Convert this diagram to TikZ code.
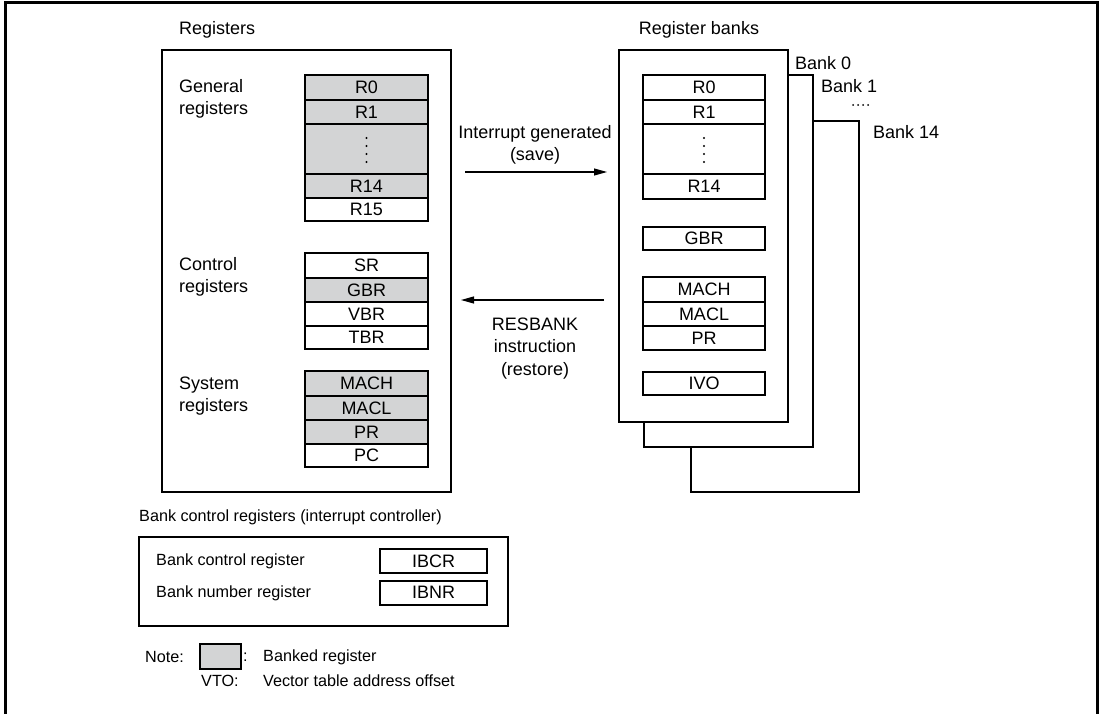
\documentclass[tikz,border=0pt]{standalone}
\usepackage{fontspec}
\setmainfont{Liberation Sans}
\usetikzlibrary{arrows.meta}
\definecolor{bankgray}{RGB}{211,212,213}
\newcommand{\regfont}{\fontsize{18}{22.5}\selectfont}
\newcommand{\ctlfont}{\fontsize{16.2}{20}\selectfont}
\begin{document}
\begin{tikzpicture}[x=1pt, y=-1pt,
    box/.style={draw, line width=2pt},
    reg/.style={draw, line width=2pt, minimum width=123pt, minimum height=24pt,
      inner sep=0pt, outer sep=0pt, font=\regfont},
    banked/.style={reg, fill=bankgray},
    bankreg/.style={reg, fill=white, minimum width=122pt},
    lbl/.style={font=\regfont, align=left, anchor=west, inner sep=0pt},
    ctllbl/.style={lbl, font=\ctlfont},
    mid/.style={font=\regfont, align=center, inner sep=0pt},
    vdot/.style={fill, circle, inner sep=0pt, minimum size=2.4pt},
    flow/.style={line width=1.1pt, -{Triangle[length=13pt, width=7pt]}}]
  \useasboundingbox (0,0) rectangle (1102,714);
  % outer frame (open at the bottom)
  \draw[line width=3pt] (5,714) -- (5,3) -- (1097,3) -- (1097,714);
  % CPU registers
  \node[lbl] (regtitle) at (179,30) {Registers};
  \draw[box] (162,50) rectangle (451,492);
  \node[lbl] (genlbl) at (179,99) {General\\registers};
  \node[banked, minimum height=25pt] (gR0) at (366.5,87.5) {R0};
  \node[banked] (gR1) at (366.5,112) {R1};
  \node[banked, minimum height=50pt] (gdots) at (366.5,149) {};
  \foreach \y in {138,146,154,162} \node[vdot] at (366.5,\y) {};
  \node[banked] (gR14) at (366.5,186) {R14};
  \node[reg, minimum height=23pt] (gR15) at (366.5,209.5) {R15};
  \node[lbl] (ctrlgrp) at (179,277) {Control\\registers};
  \node[reg, minimum height=25pt] (cSR) at (366.5,265.5) {SR};
  \node[banked] (cGBR) at (366.5,290) {GBR};
  \node[reg] (cVBR) at (366.5,314) {VBR};
  \node[reg, minimum height=23pt] (cTBR) at (366.5,337.5) {TBR};
  \node[lbl] (sysgrp) at (179,396) {System\\registers};
  \node[banked, minimum height=25pt] (sMACH) at (366.5,383.5) {MACH};
  \node[banked] (sMACL) at (366.5,408) {MACL};
  \node[banked] (sPR) at (366.5,432) {PR};
  \node[reg, minimum height=23pt] (sPC) at (366.5,455.5) {PC};
  % register banks, back to front
  \node[mid] (banktitle) at (699,30) {Register banks};
  \draw[box, fill=white] (691,121) rectangle (859,492);
  \draw[box, fill=white] (644,75) rectangle (813,447);
  \draw[box, fill=white] (619,50) rectangle (788,422);
  \node[lbl] (bank0) at (795,63) {Bank 0};
  \node[lbl] (bank1) at (821,86) {Bank 1};
  \foreach \x in {853,858,863,868} \node[vdot, minimum size=2pt] at (\x,105) {};
  \node[lbl] (bank14) at (873,132) {Bank 14};
  \node[bankreg, minimum height=25pt] (bR0) at (704,87.5) {R0};
  \node[bankreg] (bR1) at (704,112) {R1};
  \node[bankreg, minimum height=50pt] (bdots) at (704,149) {};
  \foreach \y in {138,146,154,162} \node[vdot] at (704,\y) {};
  \node[bankreg, minimum height=25pt] (bR14) at (704,186.5) {R14};
  \node[bankreg, minimum height=23pt] (bGBR) at (704,238.5) {GBR};
  \node[bankreg, minimum height=25pt] (bMACH) at (704,289.5) {MACH};
  \node[bankreg] (bMACL) at (704,314) {MACL};
  \node[bankreg] (bPR) at (704,338) {PR};
  \node[bankreg, minimum height=23pt] (bIVO) at (704,383.5) {IVO};
  % save / restore
  \node[mid] (savelbl) at (535,145) {Interrupt generated\\(save)};
  \coordinate (saveA) at (465,172);
  \coordinate (saveB) at (607,172);
  \draw[flow] (saveA) -- (saveB);
  \coordinate (restA) at (604,300);
  \coordinate (restB) at (461,300);
  \draw[flow] (restA) -- (restB);
  \node[mid] (restlbl) at (535,348.5) {RESBANK\\instruction\\(restore)};
  % bank control registers
  \node[ctllbl] (ctrltitle) at (139,517) {Bank control registers (interrupt controller)};
  \draw[box] (139,537) rectangle (508,626);
  \node[ctllbl] (ibcrlbl) at (156,561) {Bank control register};
  \node[reg, minimum width=107pt] (IBCR) at (433.5,561) {IBCR};
  \node[ctllbl] (ibnrlbl) at (156,593) {Bank number register};
  \node[reg, minimum width=107pt] (IBNR) at (433.5,592.5) {IBNR};
  % note
  \node[ctllbl] (notelbl) at (145,657) {Note:};
  \node[banked, minimum width=41pt, minimum height=25pt] (notebox) at (220.5,656.5) {};
  \node[ctllbl] (notecolon) at (243,657) {:};
  \node[ctllbl] (notetxt) at (263,657) {Banked register};
  \node[ctllbl] (vtolbl) at (201,681) {VTO:};
  \node[ctllbl] (vtotxt) at (263,681) {Vector table address offset};
\end{tikzpicture}
\end{document}
